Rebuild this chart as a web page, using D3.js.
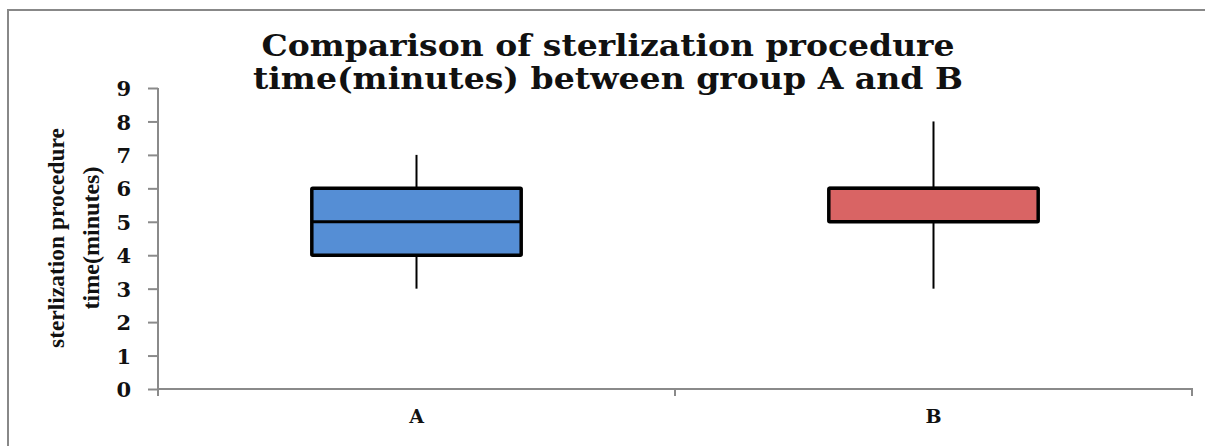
<!DOCTYPE html>
<html><head><meta charset="utf-8">
<script src="https://cdn.jsdelivr.net/npm/d3@7/dist/d3.min.js"></script>
<style>body{margin:0;background:#fff}svg{display:block}</style>
</head><body>
<script>
const categories = ["A", "B"];
const whiskerLow = [3, 3];
const q1 = [4, 5];
const median = [5, 6];
const q3 = [6, 6];
const whiskerHigh = [7, 8];
const boxColors = ["#558ed5", "#d96464"];
const yTicks = [0,1,2,3,4,5,6,7,8,9];
const titleLines = ["Comparison of sterlization procedure", "time(minutes) between group A and B"];
const yLabelLines = ["sterlization procedure", "time(minutes)"];

const W = 1205, H = 446;
const svg = d3.select("body").append("svg").attr("width", W).attr("height", H);
const serif = "'Liberation Serif','DejaVu Serif',serif";
const wideSerif = "'DejaVu Serif','Liberation Serif',serif";

// outer frame (top & left visible)
svg.append("path").attr("d", `M8,${H+5}V10H${W+5}`).attr("fill","none").attr("stroke","#888").attr("stroke-width",2);

const x = d3.scaleBand().domain(categories).range([158, 1192]);
const y = d3.scaleLinear().domain([0, 9]).range([389, 88]);

const axisColor = "#8a8a8a";
// y axis
const ya = svg.append("g").attr("transform","translate(158,0)")
  .call(d3.axisLeft(y).tickValues(yTicks).tickSize(10).tickPadding(17).tickFormat(d3.format("d")));
ya.select(".domain").remove();
ya.attr("font-size", null).attr("font-family", null);
ya.selectAll(".tick line").attr("stroke", axisColor).attr("stroke-width", 2);
ya.selectAll(".tick text").style("font-family", wideSerif).style("font-weight","bold").style("font-size", "21px").attr("fill","#111").attr("dy","0.36em");
svg.append("line").attr("x1",158).attr("x2",158).attr("y1",88).attr("y2",396).attr("stroke",axisColor).attr("stroke-width",2);

// x axis
svg.append("line").attr("x1",157).attr("x2",1193).attr("y1",389).attr("y2",389).attr("stroke",axisColor).attr("stroke-width",2);
const xBounds = [158, ...categories.map(c => x(c) + x.bandwidth())];
svg.selectAll(".xt").data(xBounds).join("line")
  .attr("x1", d=>d).attr("x2", d=>d).attr("y1",389).attr("y2",396).attr("stroke",axisColor).attr("stroke-width",2);
svg.selectAll(".xl").data(categories).join("text")
  .attr("x", d => x(d) + x.bandwidth()/2).attr("y", 423).attr("text-anchor","middle")
  .style("font-family", wideSerif).style("font-weight","bold").style("font-size","19px").attr("fill","#111").text(d=>d);

// boxes
const boxW = x.bandwidth()*0.405;
categories.forEach((c,i) => {
  const cx = x(c) + x.bandwidth()/2;
  const g = svg.append("g");
  g.append("line").attr("x1",cx).attr("x2",cx).attr("y1",y(whiskerLow[i])).attr("y2",y(q1[i])).attr("stroke","#000").attr("stroke-width",2);
  g.append("line").attr("x1",cx).attr("x2",cx).attr("y1",y(whiskerHigh[i])).attr("y2",y(q3[i])).attr("stroke","#000").attr("stroke-width",2);
  g.append("rect").attr("x",cx-boxW/2).attr("width",boxW).attr("y",y(q3[i])).attr("height",y(q1[i])-y(q3[i]))
    .attr("fill",boxColors[i]).attr("stroke","#000").attr("stroke-width",3.5).attr("rx",1);
  g.append("line").attr("x1",cx-boxW/2).attr("x2",cx+boxW/2).attr("y1",y(median[i])).attr("y2",y(median[i])).attr("stroke","#000").attr("stroke-width",3);
});

// title
const tW = [693, 710];
titleLines.forEach((t,i) => {
  svg.append("text").attr("x", 608).attr("y", 56 + i*33).attr("text-anchor","middle")
    .style("font-family", wideSerif).style("font-weight","bold").style("font-size","29px").attr("fill","#111")
    .attr("textLength", tW[i]).attr("lengthAdjust","spacingAndGlyphs").text(t);
});

// y label
const yl = [ {cx:57, len:220}, {cx:92, len:143} ];
yLabelLines.forEach((t,i) => {
  svg.append("text").attr("transform", `translate(${yl[i].cx+7},238) rotate(-90)`).attr("text-anchor","middle")
    .style("font-family", serif).style("font-weight","bold").style("font-size","23px").attr("fill","#111")
    .attr("textLength", yl[i].len).attr("lengthAdjust","spacingAndGlyphs").text(t);
});
</script>
</body></html>
